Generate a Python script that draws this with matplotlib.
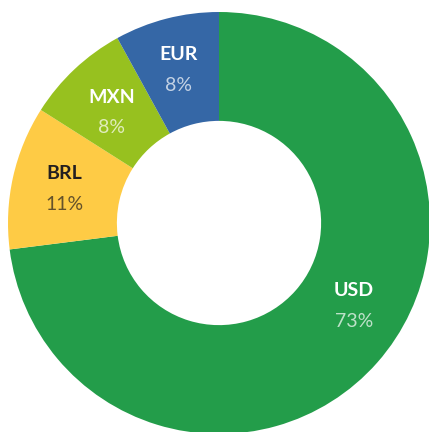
import numpy as np
import matplotlib.pyplot as plt

currencies = ['USD', 'BRL', 'MXN', 'EUR']
shares = [73, 11, 8, 8]
colors = ['#239d4a', '#fecb45', '#97c11f', '#3567a6']
label_colors = ['white', '#231f20', 'white', 'white']

plt.rcParams['font.family'] = ['Lato', 'DejaVu Sans']

fig = plt.figure(figsize=(4.29, 4.32), dpi=100)
ax = fig.add_axes([0, 0, 1, 1])

wedges, _ = ax.pie(shares, colors=colors, startangle=90, counterclock=False,
                   radius=1.0, wedgeprops=dict(width=0.516, linewidth=0))

# text position: radius and small angle tweak per wedge
label_r = [0.75, 0.75, 0.73, 0.75]
angle_shift = [9.8, 0.3, 1, 0.5]
for w, cur, pct, tc, r, da in zip(wedges, currencies, shares, label_colors, label_r, angle_shift):
    mid = np.deg2rad((w.theta1 + w.theta2) / 2 + da)
    x, y = r * np.cos(mid), r * np.sin(mid)
    ax.text(x, y + 0.073, cur, ha='center', va='center', color=tc,
            fontsize=14, fontweight='bold')
    ax.text(x, y - 0.073, f'{pct}%', ha='center', va='center', color=tc,
            alpha=0.7, fontsize=14, fontweight='normal')

ax.set_xlim(-219 / 211, 210 / 211)
ax.set_ylim(-209 / 211, 223 / 211)
ax.set_aspect('equal')
ax.axis('off')

fig.savefig('out.png', dpi=100)
